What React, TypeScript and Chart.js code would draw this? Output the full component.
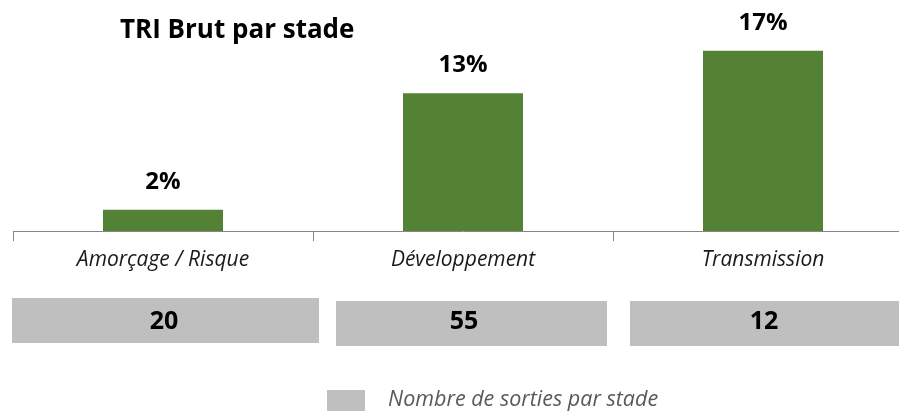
import React, { useEffect, useRef } from 'react';
import { Chart, registerables } from 'chart.js';

Chart.register(...registerables);

// ---- data ----
const chartTitle = 'TRI Brut par stade';
const categories = ['Amorçage / Risque', 'Développement', 'Transmission'];
const triValues = [2, 13, 17];
const exitCounts = [20, 55, 12];
const exitLegend = 'Nombre de sorties par stade';

const FONT = '"Open Sans", Lato, "DejaVu Sans", sans-serif';
const GREEN = '#548235';
const GREY = '#bfbfbf';

export default function App() {
  const ref = useRef<HTMLCanvasElement>(null);

  useEffect(() => {
    const canvas = ref.current;
    if (!canvas) return;

    const overlay = {
      id: 'overlay',
      afterDraw(chart: any) {
        const ctx = chart.ctx as CanvasRenderingContext2D;
        const xs = chart.scales.x;
        const ys = chart.scales.y;
        const catW = (xs.right - xs.left) / categories.length;
        ctx.save();

        // title
        ctx.fillStyle = '#000';
        ctx.font = `bold 26px ${FONT}`;
        ctx.textAlign = 'left';
        ctx.textBaseline = 'middle';
        ctx.fillText(chartTitle, 120, 31);

        // value labels
        ctx.textAlign = 'center';
        ctx.font = `bold 24px ${FONT}`;
        triValues.forEach((v, i) => {
          ctx.fillText(v + '%', xs.getPixelForValue(i), ys.getPixelForValue(v) - 28);
        });

        // grey count boxes
        const insetL = [-1, 23, 17];
        const insetR = [-6, 6, 0];
        exitCounts.forEach((n, i) => {
          const start = xs.left + catW * i + insetL[i];
          const end = Math.min(xs.left + catW * (i + 1) - insetR[i], chart.width);
          const top = i === 0 ? 298 : 301;
          ctx.fillStyle = GREY;
          ctx.fillRect(start, top, end - start, 45);
          ctx.fillStyle = '#000';
          ctx.font = `bold 25px ${FONT}`;
          ctx.fillText(String(n), xs.getPixelForValue(i) + 1, 322);
        });

        // legend
        ctx.fillStyle = GREY;
        ctx.fillRect(327, 390, 38, 22);
        ctx.fillStyle = '#595959';
        ctx.font = `italic 21.5px ${FONT}`;
        ctx.textAlign = 'left';
        ctx.fillText(exitLegend, 388, 400);

        ctx.restore();
      },
    };

    const chart = new Chart(canvas, {
      type: 'bar',
      data: {
        labels: categories,
        datasets: [
          {
            label: 'TRI Brut',
            data: triValues,
            backgroundColor: GREEN,
            borderWidth: 0,
            barPercentage: 0.4,
            categoryPercentage: 1,
          },
        ],
      },
      options: {
        responsive: false,
        animation: false,
        layout: { padding: { left: 13, top: 19, right: 0, bottom: 0 } },
        plugins: {
          legend: { display: false },
          tooltip: { enabled: false },
          title: { display: false },
        },
        scales: {
          x: {
            afterFit: (scale: any) => {
              scale.height = 180;
            },
            grid: {
              display: true,
              drawOnChartArea: false,
              drawTicks: true,
              tickLength: 10,
              color: '#868686',
              offset: true,
            },
            border: { display: true, color: '#868686', width: 1 },
            ticks: {
              color: '#1a1a1a',
              font: { family: FONT, size: 21, style: 'italic' },
              padding: 6,
              maxRotation: 0,
            },
          },
          y: {
            display: false,
            min: 0,
            max: 20,
          },
        },
      },
      plugins: [overlay],
    });

    return () => chart.destroy();
  }, []);

  return (
    <div
      style={{
        position: 'absolute',
        left: 0,
        top: 0,
        width: 899,
        height: 411,
        overflow: 'hidden',
        background: '#fff',
      }}
    >
      <canvas ref={ref} width={913} height={411} style={{ display: 'block', width: 913, height: 411 }} />
    </div>
  );
}
